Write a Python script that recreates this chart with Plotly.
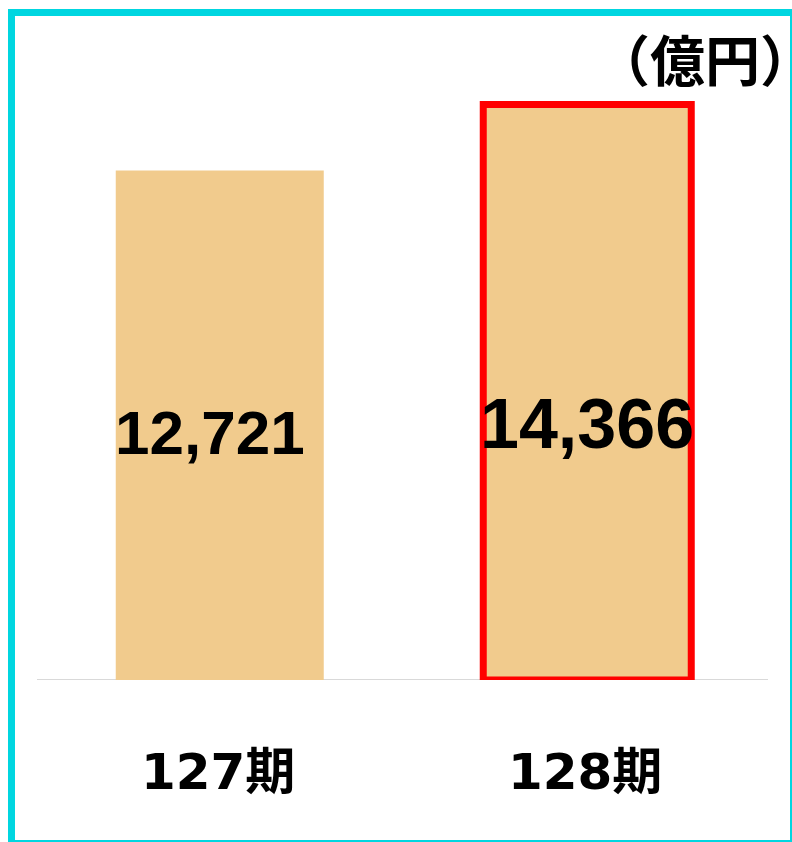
import plotly.graph_objects as go

categories = ["127期", "128期"]
values = [12721, 14366]
value_labels = ["12,721", "14,366"]
unit_label = "（億円）"

W, H = 792, 842
L, R, T, B = 36, 21, 60, 162
PW, PH = W - L - R, H - T - B

def px(x):
    return (x - L) / PW

def py(y):
    return (H - B - y) / PH

bar_fill = "#F1CB8D"
cyan = "#00D6E0"

fig = go.Figure()
fig.add_trace(go.Bar(
    x=categories,
    y=values,
    marker=dict(
        color=bar_fill,
        line=dict(color=["rgba(0,0,0,0)", "#FF0000"], width=[0, 7]),
    ),
    width=0.566,
    hoverinfo="skip",
))

annotations = []
label_sizes = [62, 70]
label_shifts = [-7, -32]
label_xshifts = [-10, 0]
for c, v, t, s, sh, xs in zip(categories, values, value_labels, label_sizes, label_shifts, label_xshifts):
    annotations.append(dict(
        x=c, y=v / 2, xref="x", yref="y", text="<b>" + t + "</b>", showarrow=False,
        font=dict(family="Liberation Sans, Arial, sans-serif", size=s, color="#000000"),
        xanchor="center", yanchor="middle", yshift=sh, xshift=xs,
    ))
for c in categories:
    annotations.append(dict(
        x=c, y=0, xref="x", yref="y", text="<b>" + c + "</b>", showarrow=False,
        font=dict(family="DejaVu Sans, Noto Sans CJK JP, sans-serif", size=50, color="#000000"),
        xanchor="center", yanchor="middle", yshift=-92, xshift=-2,
    ))
annotations.append(dict(
    x=px(593), y=py(57), xref="paper", yref="paper", text="<b>" + unit_label + "</b>",
    showarrow=False, xanchor="left", yanchor="middle",
    font=dict(family="Noto Sans CJK JP, sans-serif", size=55, color="#000000"),
))

shapes = [
    dict(type="line", xref="paper", yref="y", x0=px(37), x1=px(768), y0=0, y1=0,
         line=dict(color="#D9D9D9", width=2), layer="below"),
    dict(type="rect", xref="paper", yref="paper", x0=px(8), x1=px(15), y0=py(9), y1=py(842),
         fillcolor=cyan, line=dict(width=0)),
    dict(type="rect", xref="paper", yref="paper", x0=px(8), x1=px(792), y0=py(9), y1=py(16),
         fillcolor=cyan, line=dict(width=0)),
    dict(type="rect", xref="paper", yref="paper", x0=px(790), x1=px(792), y0=py(9), y1=py(842),
         fillcolor=cyan, line=dict(width=0)),
    dict(type="rect", xref="paper", yref="paper", x0=px(8), x1=px(792), y0=py(840), y1=py(842),
         fillcolor=cyan, line=dict(width=0)),
]

fig.update_layout(
    width=W, height=H,
    margin=dict(l=L, r=R, t=T, b=B, pad=0),
    paper_bgcolor="#FFFFFF", plot_bgcolor="#FFFFFF",
    showlegend=False,
    bargap=0.434,
    xaxis=dict(showticklabels=False, showgrid=False, zeroline=False, showline=False, ticks=""),
    yaxis=dict(range=[0, 15480], visible=False, showgrid=False, zeroline=False),
    annotations=annotations,
    shapes=shapes,
)

fig.write_html("out.html", config={"displayModeBar": False})
